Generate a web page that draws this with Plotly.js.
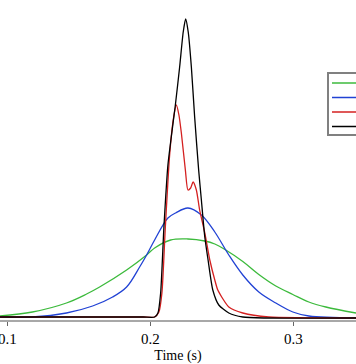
<!DOCTYPE html>
<html>
<head>
<meta charset="utf-8">
<script src="https://cdn.plot.ly/plotly-3.0.1.min.js"></script>
<style>
html,body{margin:0;padding:0;background:#fff;}
#chart{width:356px;height:364px;}
</style>
</head>
<body>
<div id="chart"></div>
<script>
// Time (s) and relative amplitude for each series
const greenT = [0.0944,0.1175,0.1413,0.1554,0.1645,0.1834,0.1974,0.2030,0.2142,0.2263,0.2381,0.2451,0.2528,0.2647,0.2759,0.2878,0.2997,0.3109,0.3228,0.3439];
const greenY = [0.04,0.08,0.17,0.26,0.33,0.50,0.65,0.72,0.80,0.81,0.79,0.76,0.70,0.585,0.455,0.34,0.255,0.18,0.13,0.07];

const blueT = [0.0944,0.1175,0.1413,0.1596,0.1736,0.1834,0.1925,0.1974,0.2030,0.2123,0.2177,0.2263,0.2357,0.2451,0.2549,0.2647,0.2759,0.2878,0.2997,0.3109,0.3439];
const blueY = [0.03,0.03,0.07,0.14,0.23,0.33,0.53,0.65,0.80,1.02,1.07,1.12,1.05,0.88,0.65,0.45,0.28,0.17,0.08,0.04,0.02];

const redT = [0.0944,0.1500,0.1950,0.2030,0.2060,0.2081,0.2105,0.2135,0.2160,0.2182,0.2200,0.2217,0.2245,0.2263,0.2282,0.2299,0.2322,0.2345,0.2381,0.2416,0.2451,0.2472,0.2549,0.2647,0.2829,0.3439];
const redY = [0.03,0.03,0.03,0.03,0.08,0.27,0.93,1.65,2.00,2.15,2.05,1.87,1.50,1.30,1.32,1.38,1.30,1.10,0.87,0.60,0.40,0.30,0.13,0.07,0.03,0.02];

const blackT = [0.0944,0.1500,0.1950,0.2030,0.2053,0.2072,0.2095,0.2123,0.2142,0.2175,0.2205,0.2230,0.2247,0.2265,0.2287,0.2310,0.2338,0.2357,0.2381,0.2404,0.2437,0.2479,0.2549,0.2647,0.2800,0.3439];
const blackY = [0.03,0.03,0.03,0.03,0.07,0.27,0.93,1.55,1.78,2.15,2.53,2.88,3.01,2.88,2.53,2.03,1.50,1.20,0.83,0.60,0.30,0.15,0.07,0.03,0.02,0.02];

const seriesNames = ["Series 1","Series 2","Series 3","Series 4"];
const seriesColors = ['#3cba3c','#2142d4','#d42020','#000000'];
const xTicks = [0.1,0.2,0.3];
const xTickText = ["0.1","0.2","0.3"];

const mk = (x,y,name,color,sm) => ({
  x:x, y:y, name:name, type:'scatter', mode:'lines', showlegend:false,
  line:{color:color, width:1.3, shape:'spline', smoothing:sm}
});

const data = [
  mk(greenT, greenY, seriesNames[0], seriesColors[0], 1.0),
  mk(blueT, blueY, seriesNames[1], seriesColors[1], 1.0),
  mk(redT, redY, seriesNames[2], seriesColors[2], 0.6),
  mk(blackT, blackY, seriesNames[3], seriesColors[3], 0.6)
];

// Legend box (its labels lie beyond the right edge of the cropped picture)
const plotH = 320, W = 356;
const py = v => 1 - v/plotH;
const shapes = [{
  type:'rect', xref:'paper', yref:'paper',
  x0:328/W, x1:1.3, y0:py(135), y1:py(73),
  line:{color:'#808080', width:2}, fillcolor:'#ffffff', layer:'above'
}];
const legendRows = [83, 97.5, 112, 126.5];
seriesColors.forEach((c,i) => {
  shapes.push({
    type:'line', xref:'paper', yref:'paper',
    x0:332/W, x1:1.2, y0:py(legendRows[i]), y1:py(legendRows[i]),
    line:{color:c, width:1.5}, layer:'above'
  });
});

const layout = {
  width:356, height:364,
  margin:{l:0, r:0, t:0, b:44, autoexpand:false},
  paper_bgcolor:'#ffffff', plot_bgcolor:'#ffffff',
  font:{family:'"Liberation Serif", "Times New Roman", serif', size:14, color:'#000'},
  showlegend:false,
  shapes:shapes,
  xaxis:{
    range:[0.0948,0.3439],
    tickvals:xTicks, ticktext:xTickText,
    ticks:'outside', ticklen:4, tickcolor:'#666', tickwidth:1,
    showline:true, linecolor:'#a8a8a8', linewidth:2,
    showgrid:false, zeroline:false,
    ticklabeloverflow:'allow',
    tickfont:{size:15},
    automargin:true,
    title:{text:'Time (s)', font:{size:14}, standoff:6}
  },
  yaxis:{
    range:[0,3.2], visible:false, showgrid:false, zeroline:false
  }
};

Plotly.newPlot('chart', data, layout, {displayModeBar:false, staticPlot:true});
</script>
</body>
</html>
